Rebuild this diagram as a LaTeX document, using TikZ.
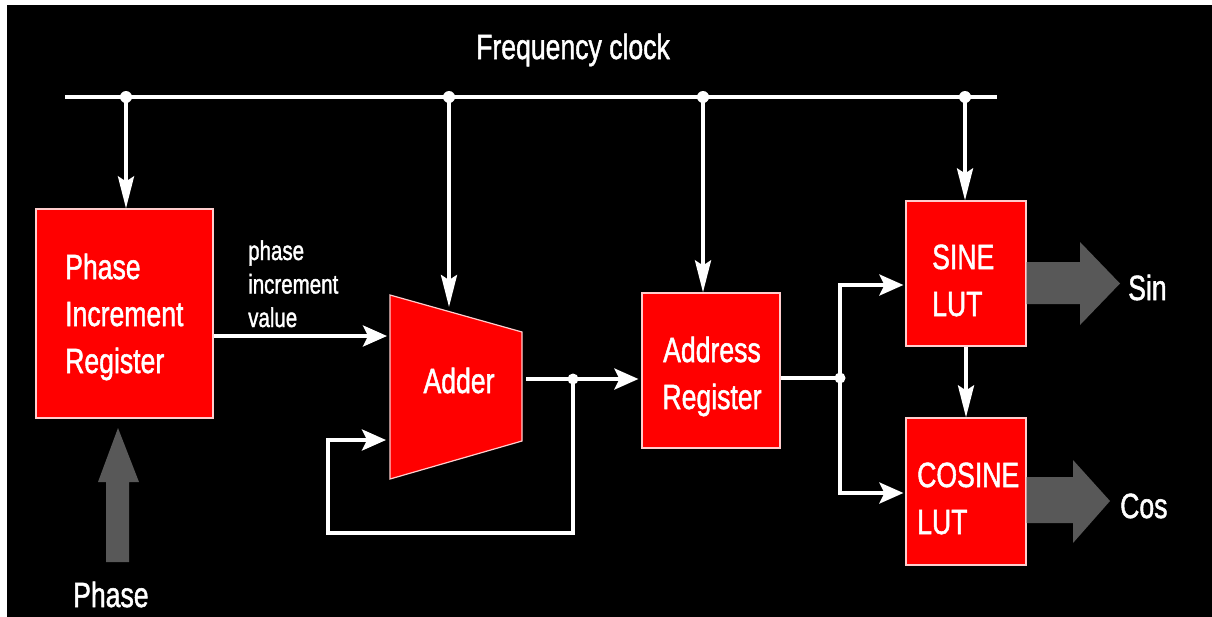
\documentclass[tikz,border=0pt]{standalone}
\usepackage{fontspec}
\setmainfont{Liberation Sans}
\newfontfamily\heavyfont{Liberation Sans}[FakeBold=1.6]
\usepackage{graphicx}
\usetikzlibrary{arrows.meta}
\definecolor{boxred}{RGB}{255,0,0}
\definecolor{boxedge}{RGB}{255,205,205}
\definecolor{fatgray}{RGB}{88,88,88}
\newcommand{\sqz}[1]{\scalebox{0.76}[1]{#1}}
\begin{document}
\begin{tikzpicture}[x=1pt,y=-1pt,
  wire/.style={draw=white,line width=3.5pt},
  vtip/.style={-{Stealth[length=32pt,width=16pt,inset=5pt]}},
  htip/.style={-{Stealth[length=24pt,width=21pt,inset=5pt]}},
  blk/.style={draw=boxedge,fill=boxred,line width=1.2pt,inner sep=0pt},
  bigtxt/.style={text=white,inner sep=0pt,font=\heavyfont\fontsize{35}{47}\selectfont},
  smalltxt/.style={text=white,inner sep=0pt,font=\heavyfont\fontsize{27}{33.5}\selectfont},
  fat/.style={fill=fatgray}]
\useasboundingbox (0,0) rectangle (1212,616);
\fill[white] (0,0) rectangle (1212,616);
\fill[black] (7,5) rectangle (1225,630);

% blocks
\node[blk,minimum width=177pt,minimum height=209pt] (pir) at (124.5,313.5) {};
\node[blk,minimum width=138pt,minimum height=155pt] (addr) at (711,370.5) {};
\node[blk,minimum width=120pt,minimum height=145pt] (sine) at (966,273.5) {};
\node[blk,minimum width=120pt,minimum height=147pt] (cosine) at (966,491.5) {};
\coordinate (adTL) at (390,295);
\coordinate (adTR) at (522,332);
\coordinate (adBR) at (522,441);
\coordinate (adBL) at (390,479);
\filldraw[blk] (adTL) -- (adTR) -- (adBR) -- (adBL) -- cycle;

% texts
\node[bigtxt,anchor=base] (fclk) at (573,59) {\sqz{Frequency clock}};
\node[bigtxt,anchor=base west] (pirtxt) at (65,279) {\sqz{\begin{tabular}[t]{@{}l@{}}Phase\\Increment\\Register\end{tabular}}};
\node[smalltxt,anchor=base west] (pivtxt) at (248,260) {\sqz{\begin{tabular}[t]{@{}l@{}}phase\\increment\\value\end{tabular}}};
\node[bigtxt,anchor=base] (addertxt) at (459,393) {\sqz{Adder}};
\node[bigtxt,anchor=base] (addrtxt) at (712,362) {\sqz{\begin{tabular}[t]{@{}c@{}}Address\\Register\end{tabular}}};
\node[bigtxt,anchor=base west] (sinetxt) at (932,269) {\sqz{\begin{tabular}[t]{@{}l@{}}SINE\\LUT\end{tabular}}};
\node[bigtxt,anchor=base west] (costxt) at (917,487) {\sqz{\begin{tabular}[t]{@{}l@{}}COSINE\\LUT\end{tabular}}};
\node[bigtxt,anchor=base west] (sinout) at (1128,300) {\sqz{Sin}};
\node[bigtxt,anchor=base west] (cosout) at (1120,518) {\sqz{Cos}};
\node[bigtxt,anchor=base west] (phin) at (73,607) {\sqz{Phase}};

% clock bus
\coordinate (busL) at (65,97);
\coordinate (busR) at (997,97);
\coordinate (d1) at (126,97);
\coordinate (d2) at (449,97);
\coordinate (d3) at (703,97);
\coordinate (d4) at (965,97);
\draw[wire,line width=4.5pt] (busL) -- (busR);
\foreach \d in {d1,d2,d3,d4} \fill[white] (\d) circle (6pt);
\coordinate (adTop) at (449,307);
\draw[wire,vtip] (d1) -- (d1 |- pir.north);
\draw[wire,vtip] (d2) -- (adTop);
\draw[wire,vtip] (d3) -- (d3 |- addr.north);
\draw[wire,vtip] (d4) -- (d4 |- sine.north);

% data path
\coordinate (inA) at (387,336);
\coordinate (inB) at (386,440);
\coordinate (adOut) at (526,379);
\coordinate (jA) at (573,379);
\coordinate (fbL) at (328,533);
\coordinate (jB) at (840,378);
\coordinate (sT) at (840,285);
\coordinate (sB) at (840,493);
\draw[wire,htip] (pir.east |- inA) -- (inA);
\draw[wire,htip] (adOut) -- ([xshift=-3pt]addr.west |- jA);
\fill[white] (jA) circle (5.5pt);
\draw[wire,htip] (jA) |- (fbL) |- (inB);
\draw[wire] (addr.east |- jB) -- (jB);
\fill[white] (jB) circle (5.5pt);
\draw[wire,htip] (jB) |- ([xshift=-2pt]sine.west |- sT);
\draw[wire,htip] (jB) |- ([xshift=-2pt]cosine.west |- sB);
\draw[wire,vtip] (sine.south) -- (cosine.north);

% fat grey arrows
\fill[fat] (sine.east |- 0,262) -- (1080,262) -- (1080,242) -- (1120,283.5) -- (1080,325) -- (1080,304) -- (sine.east |- 0,304) -- cycle;
\fill[fat] (cosine.east |- 0,477) -- (1073,477) -- (1073,460) -- (1110,501) -- (1073,543) -- (1073,523) -- (cosine.east |- 0,523) -- cycle;
\fill[fat] (106,562) -- (106,482) -- (98,482) -- (118,428) -- (139,482) -- (129,482) -- (129,562) -- cycle;
\end{tikzpicture}
\end{document}
